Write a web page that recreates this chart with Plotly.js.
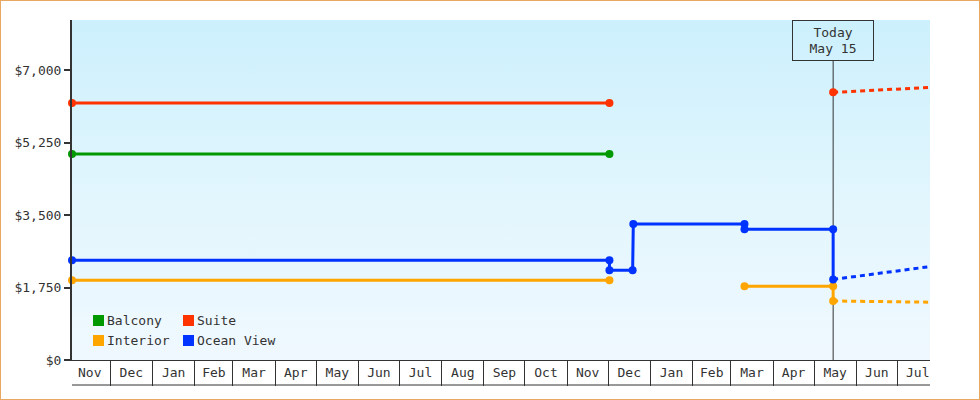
<!DOCTYPE html>
<html>
<head>
<meta charset="utf-8">
<script src="https://cdn.plot.ly/plotly-3.0.1.min.js"></script>
<style>
  html, body { margin: 0; padding: 0; background: #ffffff; }
  #wrap { position: relative; width: 980px; height: 400px; overflow: hidden; }
  #bg { position: absolute; left: 72px; top: 20px; width: 858px; height: 340px;
        background: linear-gradient(to bottom, #ccf0fd 0%, #e3f6fd 55%, #f0f8ff 100%); z-index: 0; }
  #chart { position: absolute; left: 0; top: 0; width: 980px; height: 400px; z-index: 1; }
  #frame { position: absolute; left: 0; top: 0; width: 980px; height: 400px; box-sizing: border-box;
           border: 1px solid #e8a860; z-index: 2; pointer-events: none; }
</style>
</head>
<body>
<div id="wrap"><div id="bg"></div><div id="chart"></div><div id="frame"></div></div>
<script>
// ---- data ----
const xStart = '2024-11-03';
const xEnd = '2026-07-25';
const todayDate = '2026-05-15';
const todayLabel = ['Today', 'May 15'];

const seriesNames = ['Balcony', 'Suite', 'Interior', 'Ocean View'];
const seriesColors = ['#009900', '#ff3300', '#ffa500', '#0033ff'];

const balconyDates = ['2024-11-03', '2025-12-02'];
const balconyPrices = [4970, 4970];

const suiteDates = ['2024-11-03', '2025-12-02', '2026-03-01', '2026-05-15'];
const suitePrices = [6205, 6205, null, 6460];
const suiteProjDates = ['2026-05-15', '2026-07-25'];
const suiteProjPrices = [6460, 6580];

const interiorDates = ['2024-11-03', '2025-12-02', '2026-01-15', '2026-03-11', '2026-05-15', '2026-05-15'];
const interiorPrices = [1925, 1925, null, 1780, 1780, 1425];
const interiorProjDates = ['2026-05-15', '2026-07-25'];
const interiorProjPrices = [1425, 1395];

const oceanDates = ['2024-11-03', '2025-12-02', '2025-12-02', '2025-12-19', '2025-12-19 12:00', '2026-03-11', '2026-03-11', '2026-05-15', '2026-05-15'];
const oceanPrices = [2405, 2405, 2165, 2165, 3285, 3285, 3155, 3155, 1945];
const oceanProjDates = ['2026-05-15', '2026-06-01', '2026-06-15', '2026-07-01', '2026-07-15', '2026-07-25'];
const oceanProjPrices = [1945, 2020, 2090, 2160, 2215, 2255];

const yTicks = [0, 1750, 3500, 5250, 7000];
const yTickText = yTicks.map(v => '$' + v.toLocaleString('en-US'));
const yMax = 8207;

// ---- build ----
const FONT = 'DejaVu Sans Mono, Liberation Mono, monospace';
const TXT = '#333333';

function hist(name, x, y, color) {
  return { type: 'scatter', mode: 'lines+markers', name: name, x: x, y: y,
           line: { color: color, width: 3 }, marker: { color: color, size: 8 },
           cliponaxis: false, connectgaps: false, showlegend: false, hoverinfo: 'x+y' };
}
function proj(name, x, y, color) {
  return { type: 'scatter', mode: 'lines', name: name + ' (projected)', x: x, y: y,
           line: { color: color, width: 3, dash: '5px,4px' },
           cliponaxis: false, showlegend: false, hoverinfo: 'x+y' };
}

const traces = [
  proj(seriesNames[1], suiteProjDates, suiteProjPrices, seriesColors[1]),
  proj(seriesNames[2], interiorProjDates, interiorProjPrices, seriesColors[2]),
  proj(seriesNames[3], oceanProjDates, oceanProjPrices, seriesColors[3]),
  hist(seriesNames[0], balconyDates, balconyPrices, seriesColors[0]),
  hist(seriesNames[1], suiteDates, suitePrices, seriesColors[1]),
  hist(seriesNames[2], interiorDates, interiorPrices, seriesColors[2]),
  hist(seriesNames[3], oceanDates, oceanPrices, seriesColors[3])
];

// legend (2 columns) built from series names
const plotL = 72, plotT = 20, plotW = 858, plotH = 340;
const px = v => (v - plotL) / plotW;
const py = v => (plotT + plotH - v) / plotH;
const legCols = [93, 183];
const legRows = [315, 335];
const shapes = [];
const annotations = [];
seriesNames.forEach((n, i) => {
  const c = i % 2, r = Math.floor(i / 2);
  const x0 = legCols[c], y0 = legRows[r];
  shapes.push({ type: 'rect', xref: 'paper', yref: 'paper',
                x0: px(x0), x1: px(x0 + 11), y0: py(y0 + 11), y1: py(y0),
                fillcolor: seriesColors[i], line: { width: 0 } });
  annotations.push({ xref: 'paper', yref: 'paper', x: px(x0 + 12), y: py(y0 + 5.5),
                     xanchor: 'left', yanchor: 'middle', showarrow: false, text: n,
                     font: { family: FONT, size: 13, color: TXT } });
});

// today marker
shapes.push({ type: 'line', xref: 'x', yref: 'paper', x0: todayDate, x1: todayDate,
              y0: 0, y1: py(60), line: { color: TXT, width: 1 }, layer: 'below' });
annotations.push({ xref: 'x', yref: 'paper', x: todayDate, y: py(20), xanchor: 'center', yanchor: 'top',
                   showarrow: false, text: todayLabel.join('<br>'), align: 'center',
                   width: 76, height: 35, borderpad: 2, bordercolor: TXT, borderwidth: 1,
                   font: { family: FONT, size: 13, color: TXT } });

// bottom line of the month strip
shapes.push({ type: 'line', xref: 'paper', yref: 'paper', x0: 0, x1: 1, y0: py(385), y1: py(385),
              line: { color: TXT, width: 1 } });

const layout = {
  width: 980, height: 400,
  margin: { l: 72, r: 50, t: 20, b: 40, pad: 0 },
  paper_bgcolor: 'rgba(0,0,0,0)', plot_bgcolor: 'rgba(0,0,0,0)',
  font: { family: FONT, size: 13, color: TXT },
  showlegend: false,
  xaxis: {
    type: 'date', range: [xStart, xEnd], fixedrange: true,
    ticklabelmode: 'period', dtick: 'M1', tick0: '2024-11-01', tickformat: '%b',
    ticks: 'outside', ticklen: 25, tickwidth: 1, tickcolor: TXT, ticklabelstandoff: -25,
    showgrid: false, zeroline: false,
    showline: true, linecolor: TXT, linewidth: 1,
    tickfont: { family: FONT, size: 13, color: TXT }
  },
  yaxis: {
    range: [0, yMax], fixedrange: true,
    tickmode: 'array', tickvals: yTicks, ticktext: yTickText,
    ticks: 'outside', ticklen: 6, tickwidth: 2, tickcolor: TXT,
    showgrid: false, zeroline: false, showline: true, linecolor: TXT, linewidth: 2,
    tickfont: { family: FONT, size: 13, color: TXT }
  },
  shapes: shapes,
  annotations: annotations
};

Plotly.newPlot('chart', traces, layout, { displayModeBar: false, staticPlot: true });
</script>
</body>
</html>
